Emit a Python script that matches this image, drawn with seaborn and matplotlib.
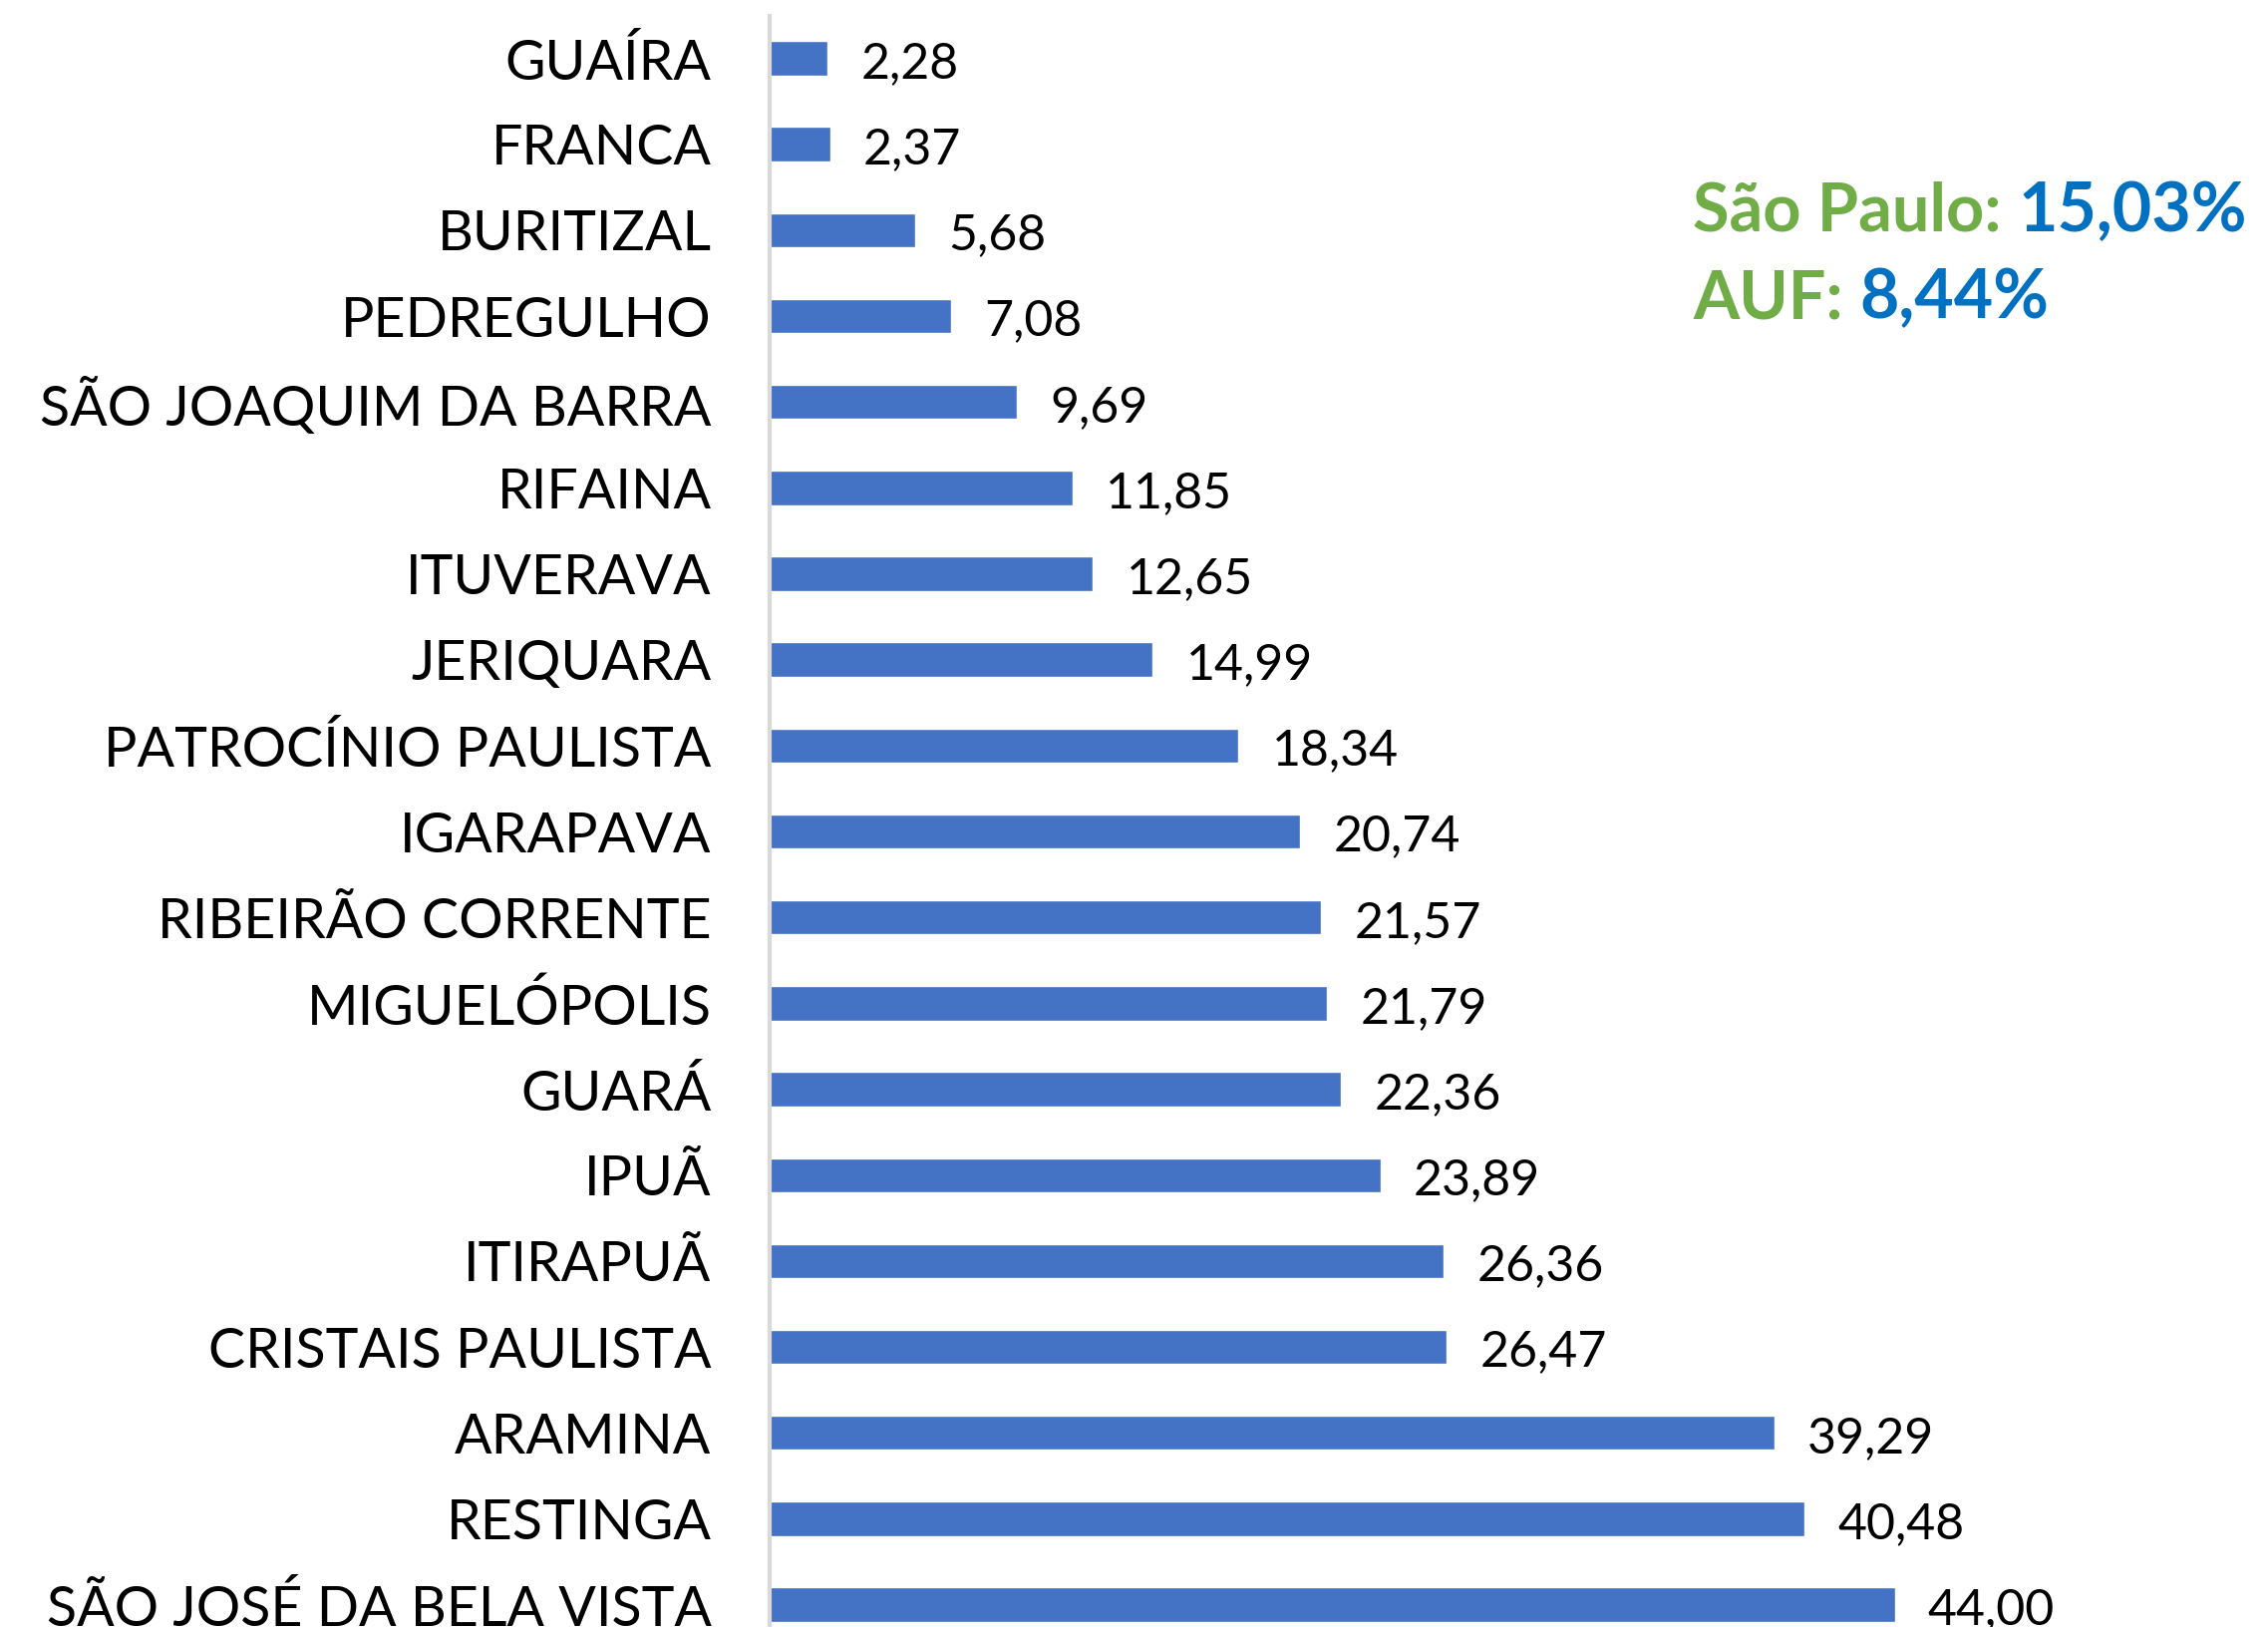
import matplotlib
matplotlib.use("Agg")
import matplotlib.pyplot as plt
import seaborn as sns
import pandas as pd

# Dados do gráfico (de cima para baixo)
municipios = [
    "GUAÍRA", "FRANCA", "BURITIZAL", "PEDREGULHO", "SÃO JOAQUIM DA BARRA",
    "RIFAINA", "ITUVERAVA", "JERIQUARA", "PATROCÍNIO PAULISTA", "IGARAPAVA",
    "RIBEIRÃO CORRENTE", "MIGUELÓPOLIS", "GUARÁ", "IPUÃ", "ITIRAPUÃ",
    "CRISTAIS PAULISTA", "ARAMINA", "RESTINGA", "SÃO JOSÉ DA BELA VISTA",
]
taxas = [
    2.28, 2.37, 5.68, 7.08, 9.69,
    11.85, 12.65, 14.99, 18.34, 20.74,
    21.57, 21.79, 22.36, 23.89, 26.36,
    26.47, 39.29, 40.48, 44.00,
]
rotulos = [f"{v:.2f}".replace(".", ",") for v in taxas]

destaques = [("São Paulo:", "15,03%"), ("AUF:", "8,44%")]

sns.set_theme(style="white")
plt.rcParams["font.family"] = ["Lato", "DejaVu Sans"]

df = pd.DataFrame({"municipio": municipios, "taxa": taxas})

fig = plt.figure(figsize=(22.75, 16.32), dpi=100)
ax = fig.add_axes([0.3393, 0.0, 0.6607, 0.990])

sns.barplot(data=df, x="taxa", y="municipio", order=municipios,
            color="#4472C4", saturation=1, width=0.4, ax=ax)

ax.set_xlim(0, 58.6)
ax.set_ylim(18.26, -0.49)
ax.set_xticks([])
ax.set_xlabel("")
ax.set_ylabel("")
ax.tick_params(axis="y", length=0, pad=42, labelsize=40, labelcolor="black")

for s in ["top", "right", "bottom"]:
    ax.spines[s].set_visible(False)
ax.spines["left"].set_color("#D9D9D9")
ax.spines["left"].set_linewidth(3)

textos = ax.bar_label(ax.containers[0], labels=rotulos, padding=24,
                      fontsize=36, color="black")
# rótulos um pouco abaixo do centro da barra, como no original
for t in textos:
    x0, y0 = t.xyann
    t.xyann = (x0, y0 - 4)

# Destaques no canto superior direito
linhas_y = [1 - 232 / 1632, 1 - 319 / 1632]
for (nome, valor), y in zip(destaques, linhas_y):
    t = fig.text(1698 / 2275, y, nome, fontsize=48, fontweight="bold",
                 color="#70AD47", ha="left", va="baseline")
    ax.annotate(valor, xy=(1, 0), xycoords=t, xytext=(12, 0),
                textcoords="offset points", fontsize=49, fontweight="bold",
                color="#0070C0", ha="left", va="bottom", annotation_clip=False)

fig.savefig("out.png", dpi=100)
